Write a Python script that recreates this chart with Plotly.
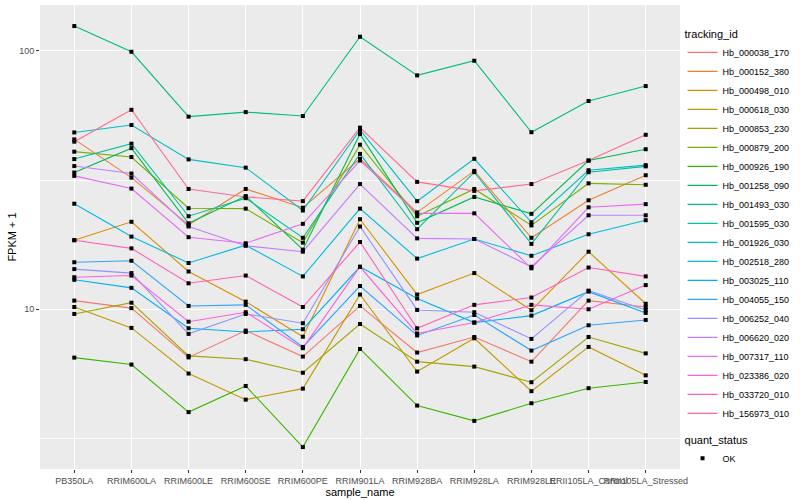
import plotly.graph_objects as go

samples = ["PB350LA", "RRIM600LA", "RRIM600LE", "RRIM600SE", "RRIM600PE",
           "RRIM901LA", "RRIM928BA", "RRIM928LA", "RRIM928LE",
           "RRII105LA_Control", "RRII105LA_Stressed"]

Hb_000038_170 = [10.8, 10.1, 6.51, 8.27, 6.56, 10.3, 6.80, 7.81, 6.27, 10.8, 10.2]
Hb_000152_380 = [45.4, 32.3, 21.2, 29.2, 24.7, 38.2, 23.7, 34.3, 18.9, 26.4, 33.0]
Hb_000498_010 = [18.5, 21.8, 14.0, 10.7, 7.83, 22.3, 11.4, 13.8, 9.91, 16.7, 10.5]
Hb_000618_030 = [10.2, 8.47, 5.64, 4.47, 4.93, 11.4, 5.74, 7.72, 4.82, 7.15, 5.55]
Hb_000853_230 = [9.59, 10.6, 6.60, 6.41, 5.68, 8.77, 6.27, 6.00, 5.22, 7.81, 6.75]
Hb_000879_200 = [40.7, 38.8, 24.6, 24.5, 18.1, 43.3, 22.9, 29.2, 21.1, 30.7, 30.3]
Hb_000926_190 = [6.50, 6.11, 4.00, 5.05, 2.93, 7.02, 4.24, 3.70, 4.33, 4.95, 5.23]
Hb_001258_090 = [33.8, 42.0, 21.5, 27.4, 17.0, 47.6, 21.6, 27.2, 23.4, 37.6, 41.6]
Hb_001493_030 = [124.6, 99.1, 55.6, 57.9, 55.9, 113.3, 80.3, 91.5, 48.4, 63.9, 73.0]
Hb_001595_030 = [38.1, 43.7, 22.9, 26.9, 18.9, 39.9, 20.4, 33.9, 17.9, 33.9, 35.7]
Hb_001926_030 = [48.3, 51.6, 38.0, 35.3, 24.1, 49.4, 26.2, 38.2, 21.7, 34.5, 36.1]
Hb_002518_280 = [25.6, 19.1, 15.1, 17.7, 13.4, 24.5, 15.7, 18.7, 16.1, 19.5, 22.1]
Hb_003025_110 = [13.0, 12.1, 8.44, 8.17, 8.37, 14.6, 11.0, 8.88, 9.45, 11.7, 9.68]
Hb_004055_150 = [15.2, 15.4, 10.3, 10.4, 7.15, 12.3, 7.92, 9.50, 6.92, 8.67, 9.09]
Hb_006252_040 = [14.3, 13.8, 8.03, 9.59, 8.83, 20.9, 9.94, 9.74, 7.68, 11.8, 9.94]
Hb_006620_020 = [35.8, 33.5, 20.9, 17.6, 16.7, 30.5, 18.8, 18.7, 14.6, 23.1, 23.1]
Hb_007317_110 = [32.8, 29.3, 19.0, 18.0, 21.4, 37.6, 23.5, 23.5, 14.4, 24.8, 25.5]
Hb_023386_020 = [13.3, 13.5, 8.95, 9.74, 7.07, 14.6, 8.06, 8.88, 10.4, 10.0, 12.4]
Hb_033720_010 = [18.5, 17.2, 12.6, 13.5, 10.2, 18.2, 8.44, 10.4, 11.1, 14.5, 13.4]
Hb_156973_010 = [44.5, 59.1, 29.2, 27.2, 26.2, 50.4, 31.1, 28.7, 30.5, 37.6, 47.3]

tracking_ids = ["Hb_000038_170", "Hb_000152_380", "Hb_000498_010", "Hb_000618_030",
                "Hb_000853_230", "Hb_000879_200", "Hb_000926_190", "Hb_001258_090",
                "Hb_001493_030", "Hb_001595_030", "Hb_001926_030", "Hb_002518_280",
                "Hb_003025_110", "Hb_004055_150", "Hb_006252_040", "Hb_006620_020",
                "Hb_007317_110", "Hb_023386_020", "Hb_033720_010", "Hb_156973_010"]

series_values = [Hb_000038_170, Hb_000152_380, Hb_000498_010, Hb_000618_030,
                 Hb_000853_230, Hb_000879_200, Hb_000926_190, Hb_001258_090,
                 Hb_001493_030, Hb_001595_030, Hb_001926_030, Hb_002518_280,
                 Hb_003025_110, Hb_004055_150, Hb_006252_040, Hb_006620_020,
                 Hb_007317_110, Hb_023386_020, Hb_033720_010, Hb_156973_010]

colors = ["#F8766D", "#EA8331", "#D89000", "#C09B00", "#A3A500", "#7CAE00",
          "#39B600", "#00BB4E", "#00BF7D", "#00C1A3", "#00BFC4", "#00BAE0",
          "#00B0F6", "#35A2FF", "#9590FF", "#C77CFF", "#E76BF3", "#FA62DB",
          "#FF62BC", "#FF6C91"]

FONT = "Liberation Sans, Arial, Helvetica, sans-serif"

fig = go.Figure()
for name, vals, col in zip(tracking_ids, series_values, colors):
    fig.add_trace(go.Scatter(
        x=samples, y=vals, mode="lines", name=name,
        line=dict(color=col, width=1.1), legend="legend",
        hoverinfo="skip"))

all_x, all_y = [], []
for vals in series_values:
    all_x.extend(samples)
    all_y.extend(vals)
fig.add_trace(go.Scatter(
    x=all_x, y=all_y, mode="markers", name="OK",
    marker=dict(color="black", size=4, symbol="square"),
    legend="legend2", hoverinfo="skip"))

fig.update_layout(
    width=800, height=500, autosize=False,
    margin=dict(l=40, r=112, t=5, b=31),
    paper_bgcolor="white", plot_bgcolor="#EBEBEB",
    font=dict(family=FONT, color="black"),
    showlegend=True,
    legend=dict(
        title=dict(text="tracking_id", font=dict(size=11, color="black")),
        font=dict(size=9, color="black"),
        x=1.004, xanchor="left", y=0.96, yanchor="top",
        bgcolor="white", itemwidth=30, tracegroupgap=0),
    legend2=dict(
        title=dict(text="quant_status", font=dict(size=11, color="black")),
        font=dict(size=9, color="black"),
        x=1.004, xanchor="left", y=0.085, yanchor="top",
        bgcolor="white", itemwidth=30),
)

fig.update_xaxes(
    type="category", categoryorder="array", categoryarray=samples,
    range=[-0.6, 10.6], automargin=False,
    showgrid=True, gridcolor="white", gridwidth=1.1,
    zeroline=False, showline=False,
    ticks="outside", ticklen=3, tickcolor="#333333", tickwidth=1,
    tickangle=0,
    tickfont=dict(size=9, color="#4D4D4D", family=FONT),
    title=dict(text="sample_name", font=dict(size=11, color="black"), standoff=0),
)

fig.update_yaxes(
    type="log", range=[0.382, 2.177], automargin=False,
    tickvals=[10, 100], ticktext=["10", "100"],
    showgrid=True, gridcolor="white", gridwidth=1.1,
    minor=dict(tickvals=[10 ** 0.5, 10 ** 1.5], showgrid=True,
               gridcolor="white", gridwidth=0.5, ticklen=0),
    zeroline=False, showline=False,
    ticks="outside", ticklen=3, tickcolor="#333333", tickwidth=1,
    tickfont=dict(size=9, color="#4D4D4D", family=FONT),
    title=dict(text="FPKM + 1", font=dict(size=11, color="black"), standoff=0),
)

fig.write_html("out.html",
               config={"displayModeBar": False},
               post_script="document.body.style.margin='0';document.body.style.overflow='hidden';")
